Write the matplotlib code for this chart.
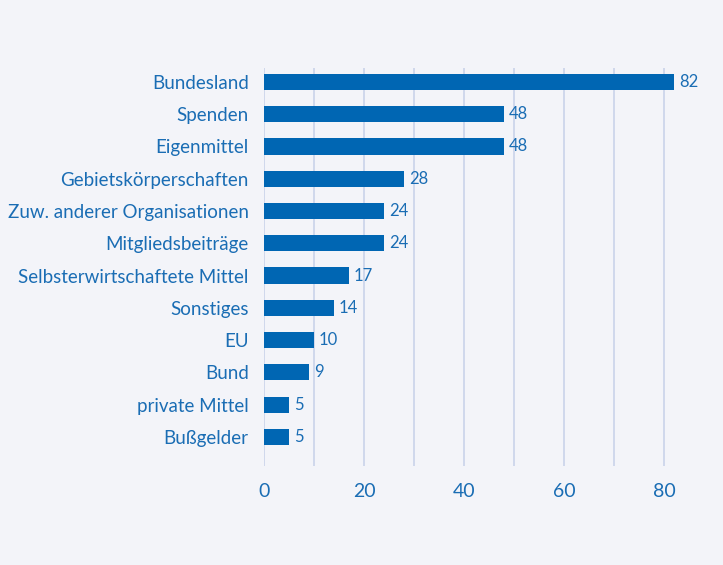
import matplotlib
matplotlib.use("Agg")
import matplotlib.pyplot as plt

categories = ["Bundesland", "Spenden", "Eigenmittel", "Gebietskörperschaften",
              "Zuw. anderer Organisationen", "Mitgliedsbeiträge",
              "Selbsterwirtschaftete Mittel", "Sonstiges", "EU", "Bund",
              "private Mittel", "Bußgelder"]
values = [82, 48, 48, 28, 24, 24, 17, 14, 10, 9, 5, 5]
xticks = [0, 20, 40, 60, 80]

bg = "#f3f4f9"
bar_color = "#0066b3"
text_color = "#1a6db4"
grid_color = "#c9d3ea"

plt.rcParams['font.family'] = ['Lato', 'DejaVu Sans']

fig = plt.figure(figsize=(7.23, 5.65), dpi=100, facecolor=bg)
x0 = 264
ax = fig.add_axes([x0/723, 1-466/565, 425/723, (466-68)/565])
ax.set_facecolor(bg)

n = len(categories)
pos = list(range(n - 1, -1, -1))
ax.barh(pos, values, height=0.5, color=bar_color, zorder=3)
for p, v in zip(pos, values):
    ax.text(v + 1.0, p, str(v), va="center", ha="left", color=text_color, fontsize=12)

ax.set_xlim(0, 85)
ax.set_ylim(-0.9, n - 1 + 0.43)
ax.set_xticks(range(0, 81, 10))
ax.set_xticklabels([str(t) if t in xticks else "" for t in range(0, 81, 10)])
ax.set_yticks(pos)
ax.set_yticklabels(categories)
ax.grid(axis="x", color=grid_color, linewidth=1.2, zorder=0)
ax.grid(axis="y", visible=False)
for s in ax.spines.values():
    s.set_visible(False)
ax.tick_params(axis="both", length=0, colors=text_color)
ax.tick_params(axis="x", labelsize=14, pad=12)
ax.tick_params(axis="y", labelsize=13.5, pad=11)

fig.savefig("out.png", dpi=100, facecolor=bg)
